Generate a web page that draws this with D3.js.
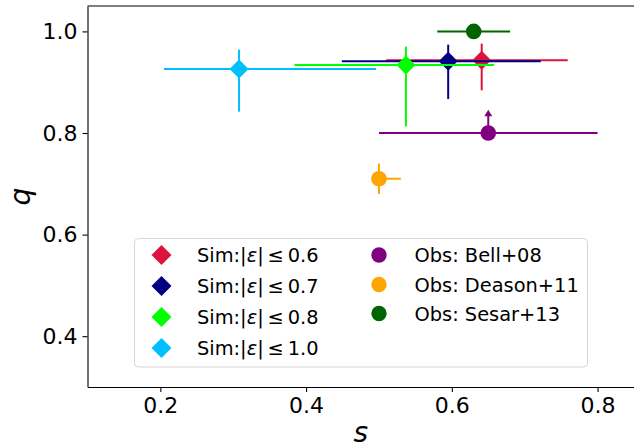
<!DOCTYPE html>
<html><head><meta charset="utf-8">
<script src="https://cdn.jsdelivr.net/npm/d3@7"></script>
<style>body{margin:0;background:#fff}svg{display:block}text{font-family:"DejaVu Sans",sans-serif;fill:#000}</style>
</head><body>
<svg id="c" width="634" height="448"></svg>
<script>
// Simulation points (diamonds)
const simLabels = ["0.6", "0.7", "0.8", "1.0"];
const simColors = ["#DC143C", "#000080", "#00FF00", "#00BFFF"];
const simS = [0.641, 0.595, 0.537, 0.308];
const simSLo = [0.131, 0.146, 0.153, 0.103];
const simSHi = [0.118, 0.127, 0.121, 0.188];
const simQ = [0.943, 0.941, 0.934, 0.926];
const simQLo = [0.059, 0.074, 0.121, 0.084];
const simQHi = [0.033, 0.033, 0.036, 0.038];
// Observations (circles)
const obsLabels = ["Obs: Bell+08", "Obs: Deason+11", "Obs: Sesar+13"];
const obsColors = ["#800080", "#FFA500", "#006400"];
const obsS = [0.65, 0.50, 0.63];
const obsSLo = [0.15, 0.0, 0.05];
const obsSHi = [0.15, 0.03, 0.05];
const obsQ = [0.80, 0.71, 1.00];
const obsQLo = [0.0, 0.03, 0.0];
const obsQHi = [0.04, 0.03, 0.0];
const obsLowerLimit = [true, false, false];
const xTicks = [0.2, 0.4, 0.6, 0.8];
const yTicks = [0.4, 0.6, 0.8, 1.0];

const svg = d3.select("#c");
const L = 87.5, R = 634, T = 6, B = 387;
const x = d3.scaleLinear().domain([0.1, 0.85]).range([L, R]);
const y = d3.scaleLinear().domain([0.3, 1.05]).range([B, T]);

// axes
const xAx = svg.append("g").attr("transform", `translate(0,${B})`)
  .call(d3.axisBottom(x).tickValues(xTicks).tickFormat(d3.format(".1f")).tickSize(5).tickPadding(5).tickSizeOuter(0));
const yAx = svg.append("g").attr("transform", `translate(${L},0)`)
  .call(d3.axisLeft(y).tickValues(yTicks).tickFormat(d3.format(".1f")).tickSize(5).tickPadding(5).tickSizeOuter(0));
[xAx, yAx].forEach(a => {
  a.selectAll("text").style("font-size", "22px").style("font-family", "DejaVu Sans");
  a.selectAll("line,path").attr("stroke", "#000").attr("stroke-width", 1.1);
});
svg.append("line").attr("x1", L).attr("x2", R).attr("y1", T).attr("y2", T).attr("stroke", "#000").attr("stroke-width", 1.1);

const plot = svg.append("g");
function errbars(g, col, s, sl, sh, q, ql, qh) {
  if (sl + sh > 0) g.append("line").attr("x1", x(s - sl)).attr("x2", x(s + sh)).attr("y1", y(q)).attr("y2", y(q)).attr("stroke", col).attr("stroke-width", 2);
  if (ql + qh > 0) g.append("line").attr("x1", x(s)).attr("x2", x(s)).attr("y1", y(q - ql)).attr("y2", y(q + qh)).attr("stroke", col).attr("stroke-width", 2);
}
function diamond(g, cx, cy, col, r) {
  g.append("path").attr("d", `M${cx},${cy - r}L${cx + r},${cy}L${cx},${cy + r}L${cx - r},${cy}Z`).attr("fill", col);
}
simS.forEach((s, i) => {
  const g = plot.append("g");
  errbars(g, simColors[i], s, simSLo[i], simSHi[i], simQ[i], simQLo[i], simQHi[i]);
  diamond(g, x(s), y(simQ[i]), simColors[i], 9.5);
});
obsS.forEach((s, i) => {
  const g = plot.append("g");
  errbars(g, obsColors[i], s, obsSLo[i], obsSHi[i], obsQ[i], obsQLo[i], obsQHi[i]);
  if (obsLowerLimit[i]) {
    const cx = x(s), cy = y(obsQ[i] + obsQHi[i]);
    g.append("path").attr("d", `M${cx},${cy - 3}L${cx + 4},${cy + 3.5}L${cx - 4},${cy + 3.5}Z`).attr("fill", obsColors[i]);
  }
  g.append("circle").attr("cx", x(s)).attr("cy", y(obsQ[i])).attr("r", 7.8).attr("fill", obsColors[i]);
});

// legend
const lg = svg.append("g");
lg.append("rect").attr("x", 134.5).attr("y", 238.5).attr("width", 453).attr("height", 128.5).attr("rx", 4)
  .attr("fill", "#fff").attr("fill-opacity", 0.8).attr("stroke", "#d6d6d6").attr("stroke-width", 1);
const simRowY = [255, 286, 317, 348];
simLabels.forEach((lab, i) => {
  diamond(lg, 161.5, simRowY[i], simColors[i], 10);
  const t = lg.append("text").attr("x", 197).attr("y", simRowY[i] + 7).style("font-size", "19.4px");
  t.append("tspan").text("Sim:|");
  t.append("tspan").style("font-style", "italic").text("ε");
  t.append("tspan").text("|\u2009≤\u2009" + lab);
});
const obsRowY = [255, 284.5, 313.5];
obsLabels.forEach((lab, i) => {
  lg.append("circle").attr("cx", 379).attr("cy", obsRowY[i]).attr("r", 7.7).attr("fill", obsColors[i]);
  lg.append("text").attr("x", 414.5).attr("y", obsRowY[i] + 7).style("font-size", "19.4px").text(lab);
});

// axis labels
svg.append("text").attr("x", (L + R) / 2).attr("y", 442).attr("text-anchor", "middle")
  .style("font-size", "28px").style("font-style", "italic").text("s");
svg.append("text").attr("transform", `translate(30,${(T + B) / 2}) rotate(-90)`).attr("text-anchor", "middle")
  .style("font-size", "28px").style("font-style", "italic").text("q");
</script>
</body></html>
